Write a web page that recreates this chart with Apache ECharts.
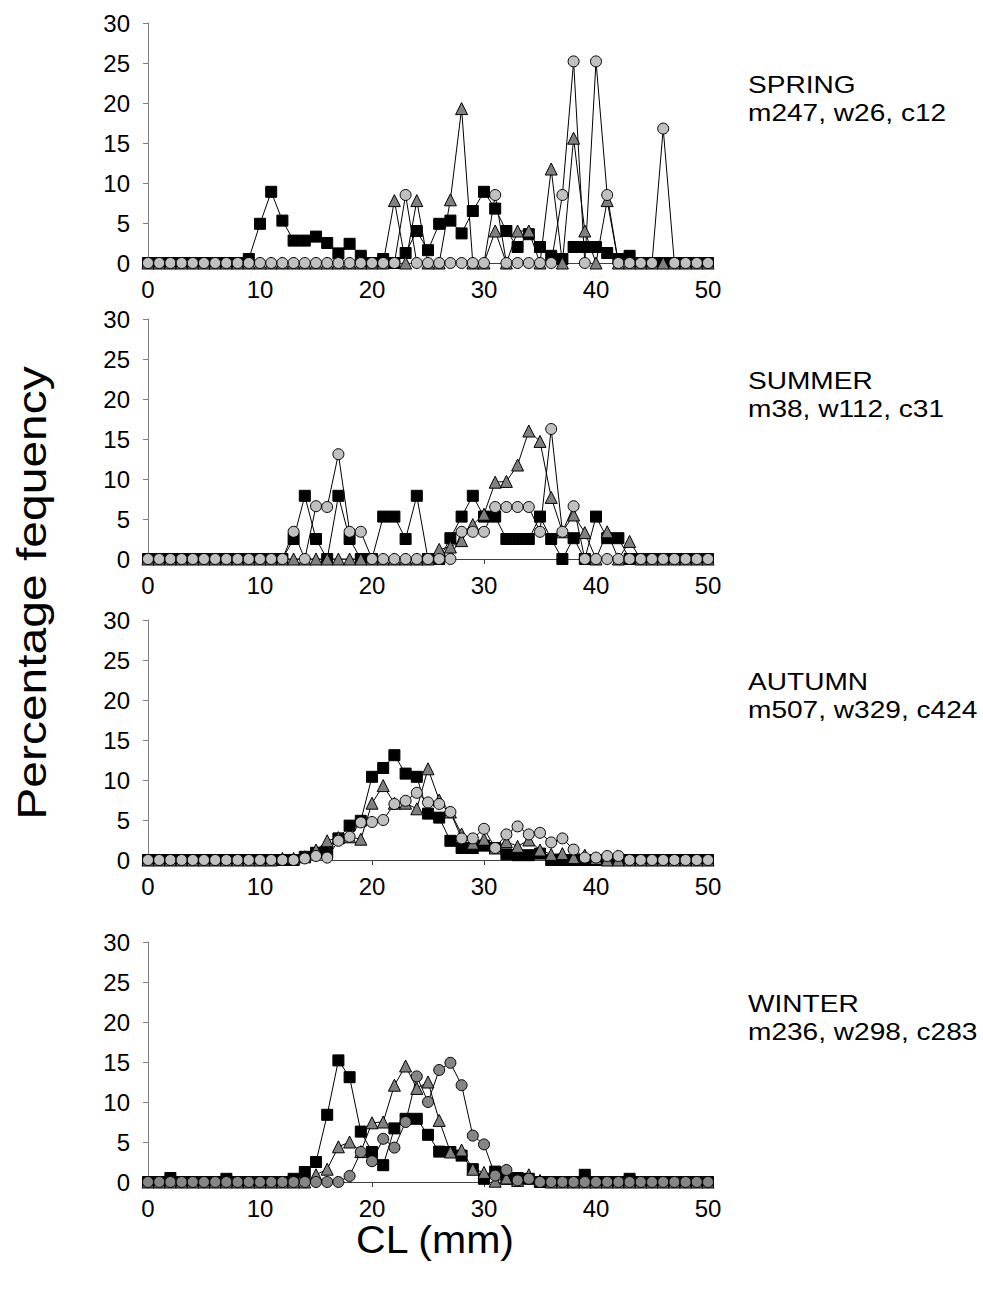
<!DOCTYPE html>
<html>
<head>
<meta charset="utf-8">
<script src="https://cdn.jsdelivr.net/npm/echarts@6/dist/echarts.min.js"></script>
<style>
  html, body { margin: 0; background: #fff; }
  #chart { width: 983px; height: 1290px; }
</style>
</head>
<body>
<div id="chart"></div>
<script>
// carapace length classes (mm)
const CL = [0, 1, 2, 3, 4, 5, 6, 7, 8, 9, 10, 11, 12, 13, 14, 15, 16, 17, 18, 19, 20,
  21, 22, 23, 24, 25, 26, 27, 28, 29, 30, 31, 32, 33, 34, 35, 36, 37, 38, 39, 40,
  41, 42, 43, 44, 45, 46, 47, 48, 49, 50]

const X_TICKS = [0, 10, 20, 30, 40, 50]
const Y_TICKS = [0, 5, 10, 15, 20, 25, 30]

const SEASONS = ['SPRING', 'SUMMER', 'AUTUMN', 'WINTER']
const SAMPLE_SIZES = ['m247, w26, c12', 'm38, w112, c31', 'm507, w329, c424', 'm236, w298, c283']

// percentage frequency, one value per CL class
const SPRING_M = [0, 0, 0, 0, 0, 0, 0, 0, 0, 0.5, 4.9, 8.9, 5.3, 2.8, 2.8, 3.3, 2.5, 1.2, 2.4, 0.9, 0,
  0.5, 0, 1.25, 4, 1.6, 4.9, 5.3, 3.7, 6.5, 8.9, 6.8, 4, 2, 3.6, 2, 0.9, 0.5, 2, 2, 2,
  1.25, 0.5, 0.9, 0, 0, 0, 0, 0, 0, 0]
const SPRING_W = [0, 0, 0, 0, 0, 0, 0, 0, 0, 0, 0, 0, 0, 0, 0, 0, 0, 0, 0, 0, 0,
  0, 7.8, 0, 7.8, 0, 0, 7.9, 19.3, 0, 0, 4, 0, 4, 4, 0, 11.75, 0, 15.6, 4, 0,
  7.8, 0, 0, 0, 0, 0, 0, 0, 0, 0]
const SPRING_C = [0, 0, 0, 0, 0, 0, 0, 0, 0, 0, 0, 0, 0, 0, 0, 0, 0, 0, 0, 0, 0,
  0, 0, 8.5, 0, 0, 0, 0, 0, 0, 0, 8.5, 0, 0, 0, 0, 0, 8.5, 25.2, 0, 25.2,
  8.5, 0, 0, 0, 0, 16.8, 0, 0, 0, 0]

const SUMMER_M = [0, 0, 0, 0, 0, 0, 0, 0, 0, 0, 0, 0, 0, 2.5, 7.9, 2.5, 0, 7.9, 2.5, 0, 0,
  5.3, 5.3, 2.5, 7.9, 0, 0, 2.6, 5.3, 7.9, 5.3, 5.3, 2.5, 2.5, 2.5, 5.3, 2.5, 0, 2.6, 0, 5.3,
  2.6, 2.6, 0, 0, 0, 0, 0, 0, 0, 0]
const SUMMER_W = [0, 0, 0, 0, 0, 0, 0, 0, 0, 0, 0, 0, 0, 0, 0, 0, 0, 0, 0, 0, 0,
  0, 0, 0, 0, 0, 1.2, 1.5, 2.3, 4.3, 5.6, 9.6, 9.7, 11.75, 16, 14.7, 7.7, 3.4, 5.5, 3.3, 0,
  3.4, 0, 2.2, 0, 0, 0, 0, 0, 0, 0]
const SUMMER_C = [0, 0, 0, 0, 0, 0, 0, 0, 0, 0, 0, 0, 0, 3.4, 0, 6.6, 6.5, 13.1, 3.4, 3.4, 0,
  0, 0, 0, 0, 0, 0, 0, 3.4, 3.4, 3.4, 6.5, 6.5, 6.5, 6.5, 3.4, 16.25, 3.4, 6.6, 0, 0,
  0, 0, 0, 0, 0, 0, 0, 0, 0, 0]

const AUTUMN_M = [0, 0, 0, 0, 0, 0, 0, 0, 0, 0, 0, 0, 0, 0, 0.4, 0.9, 1, 2.7, 4.3, 4.9, 10.4,
  11.5, 13.1, 10.8, 10.4, 5.8, 5.3, 2.4, 1.5, 1.5, 1.8, 1.5, 0.7, 0.6, 0.6, 0.8, 0, 0, 0, 0, 0,
  0, 0, 0, 0, 0, 0, 0, 0, 0, 0]
const AUTUMN_W = [0, 0, 0, 0, 0, 0, 0, 0, 0, 0, 0, 0, 0.2, 0.2, 0.4, 1.25, 2.4, 2.8, 2.9, 2.6, 7.1,
  9.3, 7.1, 7.1, 6.4, 11.4, 7.5, 6, 3.25, 2.1, 2.6, 1.5, 2.3, 1.7, 2.5, 1.25, 0.7, 0.8, 0.3, 0.6, 0.2,
  0, 0, 0, 0, 0, 0, 0, 0, 0, 0]
const AUTUMN_C = [0, 0, 0, 0, 0, 0, 0, 0, 0, 0, 0, 0, 0, 0, 0.2, 0.5, 0.3, 2.4, 2.9, 4.7, 4.75,
  5, 7, 7.4, 8.4, 7.2, 7, 6, 2.7, 2.7, 3.9, 1.5, 3.2, 4.2, 3.2, 3.4, 2.2, 2.7, 1.3, 0.3, 0.3,
  0.5, 0.5, 0, 0, 0, 0, 0, 0, 0, 0]

const WINTER_M = [0, 0, 0.5, 0, 0, 0, 0, 0.4, 0, 0, 0, 0, 0, 0.4, 1.25, 2.5, 8.4, 15.2, 13.1, 6.3, 3.75,
  2.1, 6.7, 7.9, 7.9, 5.9, 3.8, 3.75, 3.3, 1.6, 0.4, 1.3, 0.4, 0.5, 0.4, 0, 0, 0, 0, 0.9, 0,
  0, 0, 0.4, 0, 0, 0, 0, 0, 0, 0]
const WINTER_W = [0, 0, 0, 0, 0, 0, 0, 0, 0, 0, 0, 0, 0, 0, 0, 0.9, 1.6, 4.4, 5, 3.8, 7.4,
  7.5, 12.1, 14.5, 11.7, 12.5, 7.7, 3.75, 4, 1.6, 1.2, 0.1, 0.5, 0.2, 0.9, 0.2, 0, 0, 0, 0, 0,
  0, 0, 0, 0, 0, 0, 0, 0, 0, 0]
const WINTER_C = [0, 0, 0, 0, 0, 0, 0, 0, 0, 0, 0, 0, 0, 0, 0, 0, 0, 0, 0.75, 3.75, 2.6,
  5.4, 4.3, 7.5, 13.2, 10, 14, 14.9, 12.1, 5.8, 4.7, 0.8, 1.5, 0.2, 0.4, 0, 0, 0, 0, 0, 0,
  0, 0, 0, 0, 0, 0, 0, 0, 0, 0]

const PANELS = [
  [SPRING_M, SPRING_W, SPRING_C],
  [SUMMER_M, SUMMER_W, SUMMER_C],
  [AUTUMN_M, AUTUMN_W, AUTUMN_C],
  [WINTER_M, WINTER_W, WINTER_C]
]

const GRID_TOPS = [23, 319, 620, 942]
const FONT = '"Liberation Sans", Arial, sans-serif'

// marker look per group: m = black square, w = grey triangle, c = light grey circle
const MARKERS = [
  { symbol: 'rect', size: 11, color: '#000000' },
  { symbol: 'triangle', size: 12, color: '#808080' },
  { symbol: 'circle', size: 11, color: '#c0c0c0' }
]
const WINTER_CIRCLE = '#858585'

const chart = echarts.init(document.getElementById('chart'), null, { renderer: 'svg' })

const grid = GRID_TOPS.map((top) => ({ left: 148, width: 560, top: top, height: 240 }))

const xAxis = GRID_TOPS.map((_, i) => ({
  type: 'value',
  gridIndex: i,
  min: X_TICKS[0],
  max: X_TICKS[X_TICKS.length - 1],
  interval: X_TICKS[1] - X_TICKS[0],
  axisLine: { onZero: false, lineStyle: { color: '#404040', width: 1 } },
  axisTick: { show: true, inside: false, length: 5, lineStyle: { color: '#404040' } },
  axisLabel: { color: '#000', fontSize: 24, fontFamily: FONT, margin: 14 },
  splitLine: { show: false }
}))

const yAxis = GRID_TOPS.map((_, i) => ({
  type: 'value',
  gridIndex: i,
  min: Y_TICKS[0],
  max: Y_TICKS[Y_TICKS.length - 1],
  interval: Y_TICKS[1] - Y_TICKS[0],
  axisLine: { show: true, lineStyle: { color: '#808080', width: 1 } },
  axisTick: { show: true, inside: false, length: 5, lineStyle: { color: '#808080' } },
  axisLabel: { color: '#000', fontSize: 24, fontFamily: FONT, margin: 18 },
  splitLine: { show: false }
}))

const series = []
PANELS.forEach((groups, p) => {
  groups.forEach((values, g) => {
    const mk = MARKERS[g]
    const fill = (p === 3 && g === 2) ? WINTER_CIRCLE : mk.color
    series.push({
      type: 'line',
      xAxisIndex: p,
      yAxisIndex: p,
      symbol: mk.symbol,
      symbolSize: mk.size,
      showAllSymbol: true,
      lineStyle: { color: '#000', width: 1 },
      itemStyle: { color: fill, borderColor: '#000', borderWidth: 1 },
      data: values.map((v, i) => [CL[i], v])
    })
  })
})

// texts in the source figure are a little stretched sideways
const graphic = []
SEASONS.forEach((name, i) => {
  graphic.push({
    type: 'text',
    x: 748,
    y: GRID_TOPS[i] + 48,
    scaleX: 1.17,
    style: { text: name + '\n' + SAMPLE_SIZES[i], fill: '#000', font: '24px ' + FONT, lineHeight: 28 }
  })
})
graphic.push({
  type: 'text',
  x: 32,
  y: 593,
  rotation: Math.PI / 2,
  scaleX: 1.2,
  style: { text: 'Percentage fequency', fill: '#000', font: '40px ' + FONT, align: 'center', verticalAlign: 'middle' }
})
graphic.push({
  type: 'text',
  x: 435,
  y: 1240,
  scaleX: 1.08,
  style: { text: 'CL (mm)', fill: '#000', font: '38px ' + FONT, align: 'center', verticalAlign: 'middle' }
})

chart.setOption({
  animation: false,
  backgroundColor: '#ffffff',
  grid: grid,
  xAxis: xAxis,
  yAxis: yAxis,
  series: series,
  graphic: graphic
})
</script>
</body>
</html>
